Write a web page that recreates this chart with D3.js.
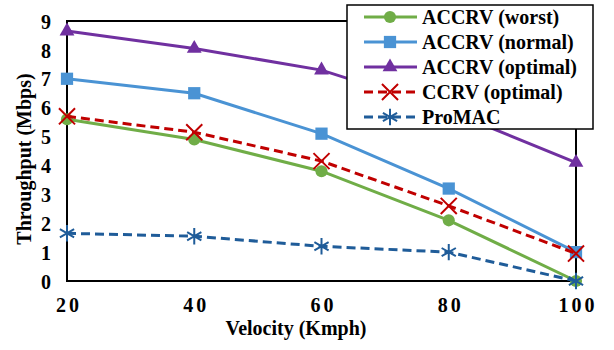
<!DOCTYPE html>
<html>
<head>
<meta charset="utf-8">
<script src="https://cdn.jsdelivr.net/npm/d3@7"></script>
<style>
  body { margin: 0; background: #fff; }
  text { font-family: "Liberation Serif", "Times New Roman", serif; font-weight: bold; fill: #000; }
</style>
</head>
<body>
<div id="chart"></div>
<script>
// velocity categories (Kmph)
const velocity = [20, 40, 60, 80, 100];
const yTicks = [0, 1, 2, 3, 4, 5, 6, 7, 8, 9];

// throughput (Mbps) per scheme
const accrvWorst   = [5.6, 4.9, 3.8, 2.1, 0];
const accrvNormal  = [7.0, 6.5, 5.1, 3.2, 1.0];
const accrvOptimal = [8.65, 8.05, 7.3, 5.9, 4.1];
const ccrvOptimal  = [5.7, 5.15, 4.15, 2.6, 0.95];
const promac       = [1.65, 1.55, 1.2, 1.0, 0];

const series = [
  { name: 'ACCRV (worst)',   values: accrvWorst,   color: '#70AD47', dash: null,  symbol: d3.symbolCircle,   size: 115, stroke: false },
  { name: 'ACCRV (normal)',  values: accrvNormal,  color: '#4A93D4', dash: null,  symbol: d3.symbolSquare,   size: 150, stroke: false },
  { name: 'ACCRV (optimal)', values: accrvOptimal, color: '#7030A0', dash: null,  symbol: d3.symbolTriangle, size: 95,  stroke: false },
  { name: 'CCRV (optimal)',  values: ccrvOptimal,  color: '#C00000', dash: '9,5', symbol: d3.symbolTimes,    size: 170, stroke: true },
  { name: 'ProMAC',          values: promac,       color: '#1F5C99', dash: '9,5', symbol: d3.symbolAsterisk, size: 190, stroke: true }
];

const W = 614, H = 350;
const svg = d3.select('#chart').append('svg')
  .attr('width', W)
  .attr('height', H);

const x = d3.scaleLinear().domain([20, 100]).range([67, 576]);
const y = d3.scaleLinear().domain([0, 9]).range([281, 21]);

// frame
svg.append('rect')
  .attr('x', x(20)).attr('y', y(9))
  .attr('width', x(100) - x(20)).attr('height', y(0) - y(9))
  .attr('fill', 'none').attr('stroke', '#000').attr('stroke-width', 2);

// y axis labels
const yAxis = svg.append('g')
  .attr('transform', `translate(${x(20)},0)`)
  .call(d3.axisLeft(y).tickValues(yTicks).tickSize(0).tickPadding(16).tickFormat(d3.format('d')));
yAxis.select('.domain').remove();
yAxis.selectAll('text')
  .style('font-family', '"Liberation Serif", serif')
  .style('font-weight', 'bold')
  .style('font-size', '20px')
  .attr('dy', '0.36em');

// x axis labels
const xAxis = svg.append('g')
  .attr('transform', `translate(0,${y(0)})`)
  .call(d3.axisBottom(x).tickValues(velocity).tickSize(0).tickPadding(17).tickFormat(d3.format('d')));
xAxis.select('.domain').remove();
xAxis.selectAll('text')
  .style('font-family', '"Liberation Serif", serif')
  .style('font-weight', 'bold')
  .style('font-size', '20px')
  .style('letter-spacing', '3px')
  .attr('dx', '1.5px');

// axis titles
svg.append('text')
  .attr('x', 296).attr('y', 335)
  .attr('text-anchor', 'middle')
  .style('font-size', '20px')
  .text('Velocity (Kmph)');

svg.append('text')
  .attr('transform', 'translate(31,159) rotate(-90)')
  .attr('text-anchor', 'middle')
  .style('font-size', '20px')
  .text('Throughput (Mbps)');

// lines + markers
const line = d3.line()
  .x((d, i) => x(velocity[i]))
  .y(d => y(d));

series.forEach(s => {
  const g = svg.append('g');
  g.append('path')
    .attr('d', line(s.values))
    .attr('fill', 'none')
    .attr('stroke', s.color)
    .attr('stroke-width', 3)
    .attr('stroke-dasharray', s.dash);
  g.selectAll('path.pt')
    .data(s.values)
    .enter()
    .append('path')
    .attr('class', 'pt')
    .attr('transform', (d, i) => `translate(${x(velocity[i])},${y(d)})`)
    .attr('d', d3.symbol().type(s.symbol).size(s.size))
    .attr('fill', s.stroke ? 'none' : s.color)
    .attr('stroke', s.stroke ? s.color : 'none')
    .attr('stroke-width', 2);
});

// legend
const legend = svg.append('g');
legend.append('rect')
  .attr('x', 347).attr('y', 5)
  .attr('width', 246).attr('height', 124)
  .attr('fill', '#fff').attr('stroke', '#000').attr('stroke-width', 1.5);

series.forEach((s, i) => {
  const ly = 17 + i * 25;
  legend.append('line')
    .attr('x1', 364).attr('x2', 417)
    .attr('y1', ly).attr('y2', ly)
    .attr('stroke', s.color)
    .attr('stroke-width', 3)
    .attr('stroke-dasharray', s.dash);
  legend.append('path')
    .attr('transform', `translate(390,${ly})`)
    .attr('d', d3.symbol().type(s.symbol).size(s.size))
    .attr('fill', s.stroke ? 'none' : s.color)
    .attr('stroke', s.stroke ? s.color : 'none')
    .attr('stroke-width', 2);
  legend.append('text')
    .attr('x', 422).attr('y', ly)
    .attr('dy', '0.35em')
    .style('font-size', '20px')
    .text(s.name);
});
</script>
</body>
</html>
